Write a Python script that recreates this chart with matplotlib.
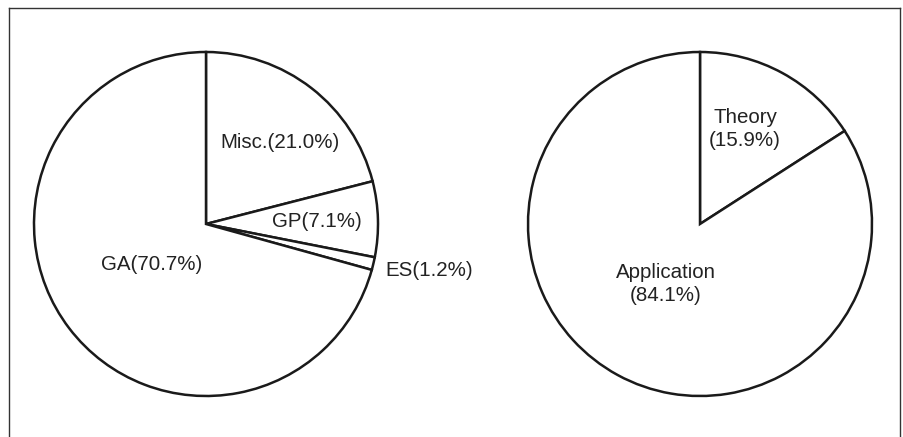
import matplotlib
matplotlib.use("Agg")
import matplotlib.pyplot as plt
from matplotlib.lines import Line2D

plt.rcParams['font.family'] = ['Liberation Sans', 'DejaVu Sans']

# Data
left_labels = ["Misc.(21.0%)", "GP(7.1%)", "ES(1.2%)", "GA(70.7%)"]
left_values = [21.0, 7.1, 1.2, 70.7]
right_labels = ["Theory\n(15.9%)", "Application\n(84.1%)"]
right_values = [15.9, 84.1]

# Layout (pixels)
W, H = 904, 437
R = 172
left_center = (206, 224)
right_center = (700, 224)
left_label_px = [(280, 143), (317, 222), (429, 270), (152, 265)]
right_label_px = [(745, 129), (666, 284)]

fig = plt.figure(figsize=(W / 100, H / 100), dpi=100)
fig.patch.set_facecolor("white")


def make_pie(center, values, labels, label_px):
    cx, cy = center
    ax = fig.add_axes([(cx - R) / W, (H - cy - R) / H, 2 * R / W, 2 * R / H])
    ax.pie(values, startangle=90, counterclock=False, radius=1.0,
           wedgeprops=dict(facecolor="white", edgecolor="#1a1a1a", linewidth=1.8))
    ax.set_xlim(-1, 1)
    ax.set_ylim(-1, 1)
    ax.set_aspect("equal")
    ax.axis("off")
    for lab, (px, py) in zip(labels, label_px):
        ax.text((px - cx) / R, -(py - cy) / R, lab, ha="center", va="center",
                fontsize=14.8, color="#222222", linespacing=1.3, clip_on=False)
    return ax


make_pie(left_center, left_values, left_labels, left_label_px)
make_pie(right_center, right_values, right_labels, right_label_px)

# Frame (left, top, right edges)
fl, ft, fr = 8.5, 7.5, 900.5
kw = dict(color="#333333", linewidth=1.0, transform=fig.transFigure)
fig.add_artist(Line2D([fl / W, fl / W], [0, 1 - ft / H], **kw))
fig.add_artist(Line2D([fl / W, fr / W], [1 - ft / H, 1 - ft / H], **kw))
fig.add_artist(Line2D([fr / W, fr / W], [0, 1 - ft / H], **kw))

fig.savefig("out.png", dpi=100, facecolor="white")
